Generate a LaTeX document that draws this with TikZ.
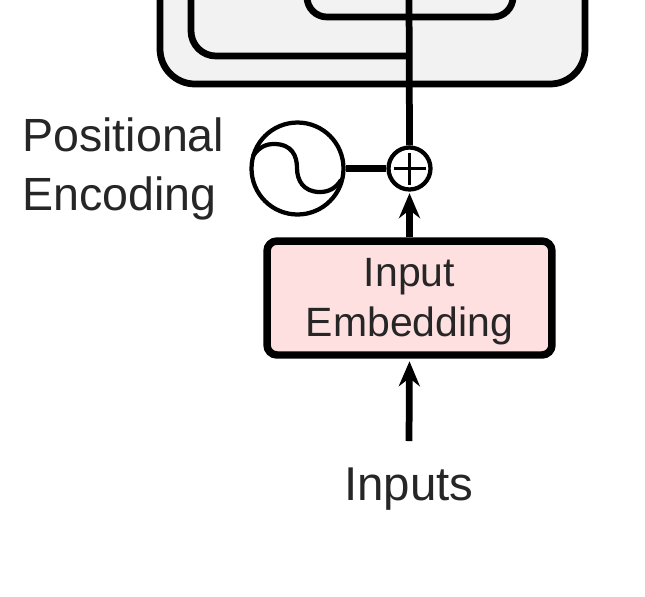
\documentclass[tikz,border=0pt]{standalone}
\usepackage{fontspec}
\setmainfont{Liberation Sans}
\usetikzlibrary{arrows.meta}
\begin{document}
\begin{tikzpicture}[x=0.02cm,y=-0.02cm,line width=0.135cm,>={Stealth[length=0.5cm,width=0.42cm]},lab/.style={font=\fontsize{26.5}{34}\selectfont,inner sep=0pt,text=black!85},box/.style={draw,rounded corners=0.2cm,line width=0.15cm,fill=red!12},thin1/.style={line width=0.085cm}]
\useasboundingbox (0,0) rectangle (645,596);
\clip (0,0) rectangle (645,596);
\draw[fill=black!5,rounded corners=0.7cm] (160,-100) rectangle (585,84);
% feedback lines inside the block
\coordinate (top) at (409,-10);
\coordinate (join1) at (409,56);
\coordinate (loopl) at (307,-10);
\coordinate (loopr) at (513,-10);
\draw[rounded corners=0.5cm] (191,-10) |- (join1);
\draw[rounded corners=0.4cm] (loopl) |- (loopr |- 0,17) -- (loopr);
\node[box,minimum width=5.7cm,minimum height=2.28cm,align=center,lab,font=\fontsize{23.3}{29}\selectfont,draw] (embed) at (409.5,298) {\rule{0pt}{0.71cm}Input\\Embedding};
\node[circle,draw,thin1,minimum size=0.84cm,inner sep=0pt] (plus) at (409.5,168.5) {};
\draw[line width=0.07cm] (plus.center) ++(-16,0) coordinate (p1) ++(32,0) coordinate (p2) (plus.center) ++(0,-16) coordinate (p3) ++(0,32) coordinate (p4) (p1) -- (p2) (p3) -- (p4);
\node[circle,draw,thin1,minimum size=1.84cm,inner sep=0pt] (pos) at (297.5,168.5) {};
\draw[thin1] (253,156) .. controls (259,147) and (266,144) .. (274,144) .. controls (292,144) and (297,156) .. (297,168) .. controls (297,180) and (303,192) .. (320,192) .. controls (329,192) and (336,188) .. (341,180);
\node[lab,anchor=west,align=left] (poslab) at (19,169) {Positional\\Encoding};
\node[lab,font=\fontsize{27}{34}\selectfont] (inputs) at (409,489) {Inputs};
\coordinate (start) at (409,441);
\draw (top) -- (plus.north);
\draw (pos.east) -- (plus.west);
\draw[->,shorten >=0.03cm] (embed.north) -- (plus.south);
\draw[->,shorten >=0.05cm] (start) -- (embed.south);
\end{tikzpicture}
\end{document}
